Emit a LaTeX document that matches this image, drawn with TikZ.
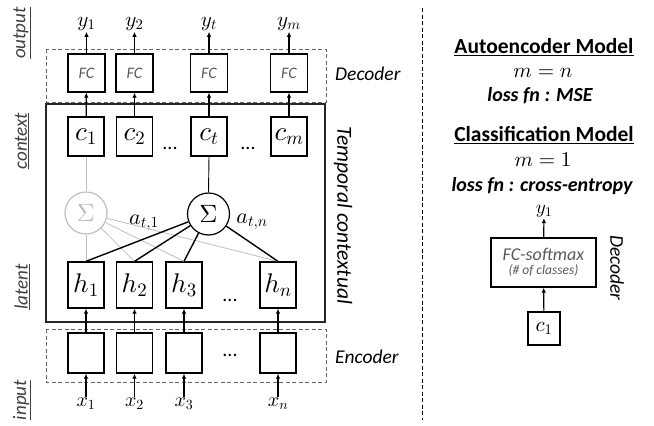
\documentclass[tikz,border=0pt]{standalone}
\usepackage{fontspec}
\setmainfont{Carlito}
\DeclareFontFamily{OML}{cmm}{\skewchar\font127 }
\DeclareFontShape{OML}{cmm}{m}{it}{<->cmmi10}{}
\DeclareFontFamily{OMS}{cmsy}{\skewchar\font48 }
\DeclareFontShape{OMS}{cmsy}{m}{n}{<->cmsy10}{}
\DeclareFontFamily{OT1}{cmr}{\hyphenchar\font45 }
\DeclareFontShape{OT1}{cmr}{m}{n}{<->cmr10}{}
\usetikzlibrary{arrows.meta}
\newcommand{\myfs}[1]{\fontsize{#1}{#1}\selectfont}
\begin{document}
\begin{tikzpicture}[x=1pt,y=-1pt,
  box/.style={draw=black,line width=1.3pt,inner sep=0pt},
  fcbox/.style={box,minimum width=37pt,minimum height=38pt,font=\myfs{16}\itshape,text=black!65},
  cbox/.style={box,minimum width=36pt,minimum height=39pt,font=\myfs{27}},
  hbox/.style={box,minimum width=36pt,minimum height=46pt,font=\myfs{27}},
  ebox/.style={box,minimum width=36pt,minimum height=40pt},
  arr/.style={-{Latex[length=5pt,width=4.5pt]},line width=1.2pt},
  dashbox/.style={draw=black!60,dash pattern=on 4pt off 2.5pt,line width=0.9pt},
  side/.style={font=\myfs{19}\itshape,text=black!75,rotate=90},
  ylbl/.style={font=\myfs{21},inner sep=1pt},
  xlbl/.style={font=\myfs{20},inner sep=1pt},
  dots/.style={font=\myfs{20}},
  sig/.style={circle,line width=1.2pt,minimum size=42pt,inner sep=0pt,font=\myfs{25}},
  gline/.style={draw=black!25,line width=0.8pt},
  bline/.style={draw=black,line width=1.4pt},
  ]
\useasboundingbox (0,0) rectangle (654,426);

% dashed / solid frames
\draw[dashbox] (46,49) rectangle (326,102);
\draw[dashbox] (46,329) rectangle (326,382);
\draw[line width=1.6pt,black!85] (46,104) rectangle (325,322);

% FC boxes
\node[fcbox] (fc1) at (86.5,73) {FC};
\node[fcbox] (fc2) at (134.5,73) {FC};
\node[fcbox] (fct) at (209,73) {FC};
\node[fcbox] (fcm) at (289,73) {FC};

% outputs
\node[ylbl] (y1) at (86.5,24) {$y_1$};
\node[ylbl] (y2) at (134.5,24) {$y_2$};
\node[ylbl] (yt) at (209,24) {$y_t$};
\node[ylbl] (ym) at (289,24) {$y_m$};

% context
\node[cbox] (c1) at (86,136.5) {$c_1$};
\node[cbox] (c2) at (134.5,136.5) {$c_2$};
\node[cbox] (ct) at (209,136.5) {$c_t$};
\node[cbox] (cm) at (289,136.5) {$c_m$};
\node[dots] (dc1) at (170,148) {...};
\node[dots] (dc2) at (248,148) {...};

% latent
\node[hbox] (h1) at (86,285) {$h_1$};
\node[hbox] (h2) at (134.5,285) {$h_2$};
\node[hbox] (h3) at (184,285) {$h_3$};
\node[hbox] (hn) at (278,285) {$h_n$};
\node[dots] (dh) at (230,300) {...};

% encoder
\node[ebox] (e1) at (86,353) {};
\node[ebox] (e2) at (134.5,353) {};
\node[ebox] (e3) at (184,353) {};
\node[ebox] (en) at (278,353) {};
\node[dots] (de) at (230,355) {...};

% inputs
\node[xlbl] (x1) at (86,404) {$x_1$};
\node[xlbl] (x2) at (134.5,404) {$x_2$};
\node[xlbl] (x3) at (184,404) {$x_3$};
\node[xlbl] (xn) at (278,404) {$x_n$};

% sigma nodes
\node[sig,draw=black!25,text=black!25] (gs) at (86,213) {$\Sigma$};
\node[sig,draw=black] (bs) at (208.5,214) {$\Sigma$};
\node[font=\myfs{22}] (a1) at (144,223) {$a_{t,1}$};
\node[font=\myfs{22}] (an) at (252,222) {$a_{t,n}$};

% gray attention lines
\draw[gline] (c1.south) -- (gs.north);
\draw[gline] (gs) -- (h1.north);
\draw[gline] (gs) -- (h2.north);
\draw[gline] (gs) -- (h3.north);
\draw[gline] (gs) -- (hn.north);
% black attention lines
\draw[black,line width=0.9pt] (ct.south) -- (bs.north);
\draw[bline] (bs) -- (h1.north);
\draw[bline] (bs) -- (h2.north);
\draw[bline] (bs) -- (h3.north);
\draw[bline] (bs) -- (hn.north);

% arrows
\foreach \a/\b in {fc1/y1,fc2/y2,fct/yt,fcm/ym,c1/fc1,c2/fc2,ct/fct,cm/fcm,e1/h1,e2/h2,e3/h3,en/hn,x1/e1,x2/e2,x3/e3,xn/en}
  \draw[arr] (\a) -- (\b);

% side labels
\node[side] (lo) at (22,33) {\underline{output}};
\node[side] (lc) at (22,141) {\underline{context}};
\node[side] (ll) at (22,287) {\underline{latent}};
\node[side] (li) at (22,400) {\underline{input}};

\node[font=\myfs{19.5}\itshape,anchor=west,inner sep=0pt] (dec) at (335,74) {Decoder};
\node[font=\myfs{19.5}\itshape,anchor=west,inner sep=0pt] (enc) at (335,357) {Encoder};
\node[font=\myfs{21.5}\itshape,rotate=-90,inner sep=0pt] (tc) at (343,215.5) {Temporal contextual};

% separator
\draw[black,line width=0.8pt,dash pattern=on 4pt off 2.5pt] (422,8) -- (422,420);

% right panel
\node[font=\myfs{21.5}\bfseries] (ae) at (544,47) {\underline{Autoencoder Model}};
\node[font=\myfs{21}] (mn) at (543,73) {$m=n$};
\node[font=\myfs{20}\bfseries\itshape] (l1) at (540,96) {loss fn : MSE};
\node[font=\myfs{21.5}\bfseries] (clm) at (544,135) {\underline{Classification Model}};
\node[font=\myfs{21}] (m1) at (543,160) {$m=1$};
\node[font=\myfs{20}\bfseries\itshape] (l2) at (542,186) {loss fn : cross-entropy};
\node[font=\myfs{19},inner sep=1pt] (ry) at (544,211) {$y_1$};
\node[box,minimum width=105pt,minimum height=49pt,align=center,text=black!65,font=\itshape] (fs) at (543.5,262.5)
  {{\myfs{18}FC-softmax}\\[2pt]{\myfs{13.5}(\# of classes)}};
\node[box,minimum width=32pt,minimum height=33pt,font=\myfs{21}] (rc) at (544,328.5) {$c_1$};
\draw[arr] (rc) -- (fs);
\draw[arr] (fs) -- (ry);
\node[font=\myfs{19.5}\itshape,rotate=-90,inner sep=0pt] (rdec) at (617,268) {Decoder};
\end{tikzpicture}
\end{document}
